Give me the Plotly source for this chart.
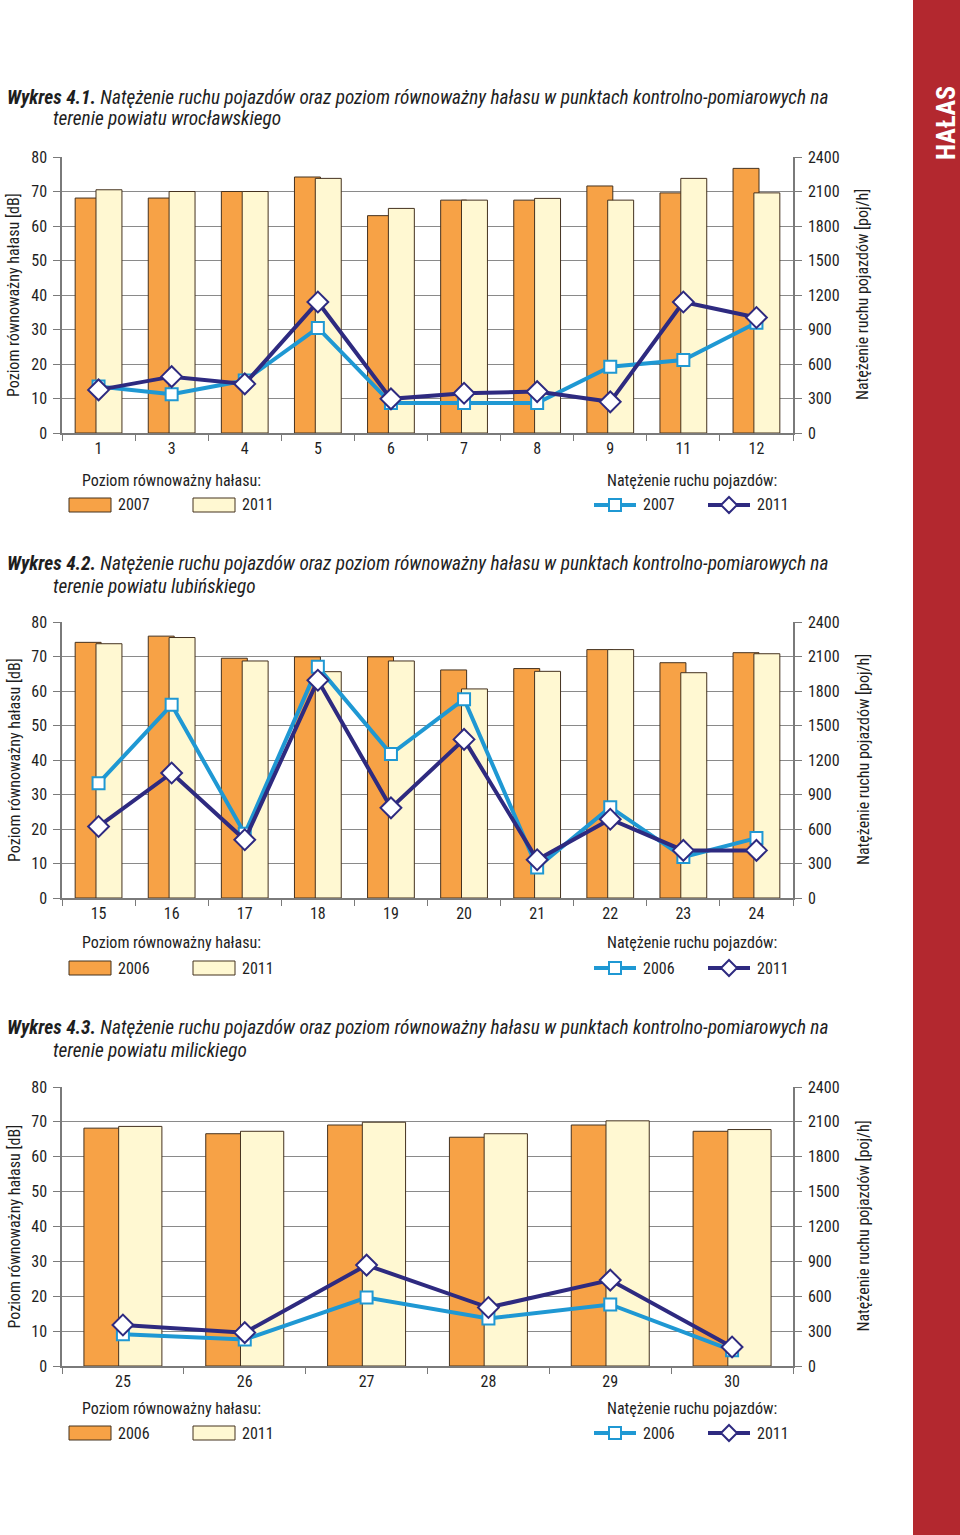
import plotly.graph_objects as go

W, H = 960, 1535

# ---------------- data ----------------
cats1 = ["1", "3", "4", "5", "6", "7", "8", "9", "11", "12"]
noise1_2007 = [68.1, 68.1, 70.0, 74.2, 63.0, 67.5, 67.5, 71.6, 69.6, 76.7]
noise1_2011 = [70.5, 70.0, 70.0, 73.8, 65.1, 67.5, 68.0, 67.5, 73.8, 69.6]
traffic1_2007 = [404, 337, 456, 914, 260, 260, 260, 577, 635, 958]
traffic1_2011 = [375, 490, 427, 1139, 297, 346, 360, 271, 1139, 1004]

cats2 = ["15", "16", "17", "18", "19", "20", "21", "22", "23", "24"]
noise2_2006 = [74.1, 75.9, 69.5, 69.9, 69.9, 66.1, 66.5, 72.0, 68.2, 71.1]
noise2_2011 = [73.7, 75.5, 68.7, 65.6, 68.7, 60.6, 65.7, 72.0, 65.3, 70.8]
traffic2_2006 = [998, 1680, 558, 2010, 1252, 1729, 266, 790, 356, 521]
traffic2_2011 = [622, 1087, 506, 1894, 784, 1379, 333, 685, 414, 414]

cats3 = ["25", "26", "27", "28", "29", "30"]
noise3_2006 = [68.2, 66.6, 69.1, 65.6, 69.1, 67.3]
noise3_2011 = [68.7, 67.3, 69.9, 66.6, 70.3, 67.8]
traffic3_2006 = [273, 227, 589, 408, 529, 135]
traffic3_2011 = [353, 287, 868, 503, 739, 164]

title_main = "Natężenie ruchu pojazdów oraz poziom równoważny hałasu w punktach kontrolno-pomiarowych na"
chart_numbers = ["4.1.", "4.2.", "4.3."]
title_second = ["terenie powiatu wrocławskiego", "terenie powiatu lubińskiego", "terenie powiatu milickiego"]
legend_noise_header = "Poziom równoważny hałasu:"
legend_traffic_header = "Natężenie ruchu pojazdów:"
left_axis_title = "Poziom równoważny hałasu [dB]"
right_axis_title = "Natężenie ruchu pojazdów [poj/h]"
side_label = "HAŁAS"

# ---------------- styles ----------------
FONT = "Liberation Sans Narrow, Arial Narrow, Roboto Condensed, DejaVu Sans Condensed, sans-serif"
ORANGE = "#F7A246"
YELLOW = "#FFF8D2"
OUTLINE = "#45321F"
BLUE = "#1F98D3"
NAVY = "#2E2A80"
GRID = "#8A8A8A"
AXIS = "#7A7A7A"
TXT = "#1E1E1E"
RED = "#B3282F"

X0, X1 = 62, 793


def py(p):
    return 1 - p / H


def pxx(p):
    return p / W


def note(text, x, y, size=16, xanchor="left", angle=0, color=TXT):
    return dict(text=text, xref="paper", yref="paper", x=pxx(x), y=py(y), xanchor=xanchor,
                yanchor="middle", showarrow=False, textangle=angle,
                font=dict(family=FONT, size=size, color=color))


charts = [
    dict(cats=cats1, a=noise1_2007, b=noise1_2011, la=traffic1_2007, lb=traffic1_2011,
         years=("2007", "2011"), top=157, bottom=433, t1=97, t2=119, lh=481, li=505),
    dict(cats=cats2, a=noise2_2006, b=noise2_2011, la=traffic2_2006, lb=traffic2_2011,
         years=("2006", "2011"), top=622, bottom=898, t1=563, t2=586, lh=943, li=968),
    dict(cats=cats3, a=noise3_2006, b=noise3_2011, la=traffic3_2006, lb=traffic3_2011,
         years=("2006", "2011"), top=1087, bottom=1366, t1=1027, t2=1050, lh=1408, li=1433),
]

fig = go.Figure()
layout = dict(
    template="none",
    width=W, height=H, margin=dict(l=0, r=0, t=0, b=0, pad=0), autosize=False,
    paper_bgcolor="white", plot_bgcolor="white",
    barmode="overlay", showlegend=False,
    font=dict(family=FONT, size=16, color=TXT),
)
annotations = []
shapes = []

# red side strip
shapes.append(dict(type="rect", xref="paper", yref="paper", x0=pxx(913), x1=1, y0=0, y1=1,
                   fillcolor=RED, line=dict(width=0), layer="below"))
annotations.append(dict(text="<b>" + side_label + "</b>", xref="paper", yref="paper",
                        x=pxx(946), y=py(123), xanchor="center", yanchor="middle",
                        showarrow=False, textangle=-90,
                        font=dict(family=FONT, size=26, color="white")))

for k, c in enumerate(charts, start=1):
    xn = "x" if k == 1 else f"x{k}"
    yl = f"y{2*k-1}" if k > 1 else "y"
    yr = f"y{2*k}"
    xkey = "xaxis" if k == 1 else f"xaxis{k}"
    ylkey = "yaxis" if k == 1 else f"yaxis{2*k-1}"
    yrkey = f"yaxis{2*k}"
    n = len(c["cats"])
    dom_y = [py(c["bottom"]), py(c["top"])]

    fig.add_trace(go.Bar(x=c["cats"], y=c["a"], xaxis=xn, yaxis=yl, offset=-0.32, width=0.355,
                         marker=dict(color=ORANGE, line=dict(color=OUTLINE, width=1))))
    fig.add_trace(go.Bar(x=c["cats"], y=c["b"], xaxis=xn, yaxis=yl, offset=-0.035, width=0.355,
                         marker=dict(color=YELLOW, line=dict(color=OUTLINE, width=1))))
    fig.add_trace(go.Scatter(x=c["cats"], y=c["la"], xaxis=xn, yaxis=yr, mode="lines+markers",
                             line=dict(color=BLUE, width=4),
                             marker=dict(symbol="square", size=12, color="white",
                                         line=dict(color=BLUE, width=2))))
    fig.add_trace(go.Scatter(x=c["cats"], y=c["lb"], xaxis=xn, yaxis=yr, mode="lines+markers",
                             line=dict(color=NAVY, width=4),
                             marker=dict(symbol="diamond", size=16, color="white",
                                         line=dict(color=NAVY, width=2))))

    layout[xkey] = dict(domain=[pxx(X0), pxx(X1)], anchor=yl, type="category",
                        range=[-0.5, n - 0.5], tickson="boundaries", ticks="outside",
                        ticklen=6, tickcolor=AXIS, showline=True, linecolor=AXIS, linewidth=1.5,
                        showgrid=False, zeroline=False, tickfont=dict(size=16, color=TXT),
                        automargin=False)
    layout[ylkey] = dict(domain=dom_y, anchor=xn, range=[0, 80], dtick=10, ticks="outside",
                         ticklen=7, tickcolor=AXIS, showline=True, linecolor=AXIS, linewidth=1.5,
                         showgrid=True, gridcolor=GRID, gridwidth=1, zeroline=False,
                         tickfont=dict(size=16, color=TXT), ticklabelstandoff=3,
                         automargin=False)
    layout[yrkey] = dict(domain=dom_y, anchor=xn, overlaying=yl, side="right", range=[0, 2400],
                         dtick=300, ticks="outside", ticklen=7, tickcolor=AXIS, showline=True,
                         linecolor=AXIS, linewidth=1.5, showgrid=False, zeroline=False,
                         tickfont=dict(size=16, color=TXT), ticklabelstandoff=3,
                         automargin=False)

    # titles
    annotations.append(note(f"<b><i>Wykres {chart_numbers[k-1]}</i></b><i> {title_main}</i>",
                            5, c["t1"], size=19.3))
    annotations.append(note(f"<i>{title_second[k-1]}</i>", 51, c["t2"], size=19.3))
    # axis titles
    mid = (c["top"] + c["bottom"]) / 2
    annotations.append(note(left_axis_title, 14, mid, xanchor="center", angle=-90))
    annotations.append(note(right_axis_title, 863, mid, xanchor="center", angle=-90))

    # legends
    lh, li = c["lh"], c["li"]
    annotations.append(note(legend_noise_header, 80, lh))
    annotations.append(note(legend_traffic_header, 605, lh))
    for sx, col in ((69, ORANGE), (193, YELLOW)):
        shapes.append(dict(type="rect", xref="paper", yref="paper", x0=pxx(sx), x1=pxx(sx + 42),
                           y0=py(li + 7), y1=py(li - 7), fillcolor=col,
                           line=dict(color=OUTLINE, width=1)))
    annotations.append(note(c["years"][0], 116, li))
    annotations.append(note(c["years"][1], 240, li))
    # line legend: blue square
    shapes.append(dict(type="line", xref="paper", yref="paper", x0=pxx(594), x1=pxx(636),
                       y0=py(li), y1=py(li), line=dict(color=BLUE, width=4)))
    shapes.append(dict(type="rect", xref="paper", yref="paper", x0=pxx(609), x1=pxx(621),
                       y0=py(li + 6), y1=py(li - 6), fillcolor="white",
                       line=dict(color=BLUE, width=2)))
    annotations.append(note(c["years"][0], 641, li))
    # navy diamond
    shapes.append(dict(type="line", xref="paper", yref="paper", x0=pxx(708), x1=pxx(750),
                       y0=py(li), y1=py(li), line=dict(color=NAVY, width=4)))
    cx = 729
    path = (f"M {pxx(cx)} {py(li-8)} L {pxx(cx+8)} {py(li)} L {pxx(cx)} {py(li+8)} "
            f"L {pxx(cx-8)} {py(li)} Z")
    shapes.append(dict(type="path", xref="paper", yref="paper", path=path, fillcolor="white",
                       line=dict(color=NAVY, width=2)))
    annotations.append(note(c["years"][1], 755, li))

layout["annotations"] = annotations
layout["shapes"] = shapes
fig.update_layout(**layout)
fig.write_html(
    "out.html",
    config={"displayModeBar": False},
    post_script="document.body.style.margin='0';document.body.style.padding='0';"
                "document.documentElement.style.overflow='hidden';",
)
